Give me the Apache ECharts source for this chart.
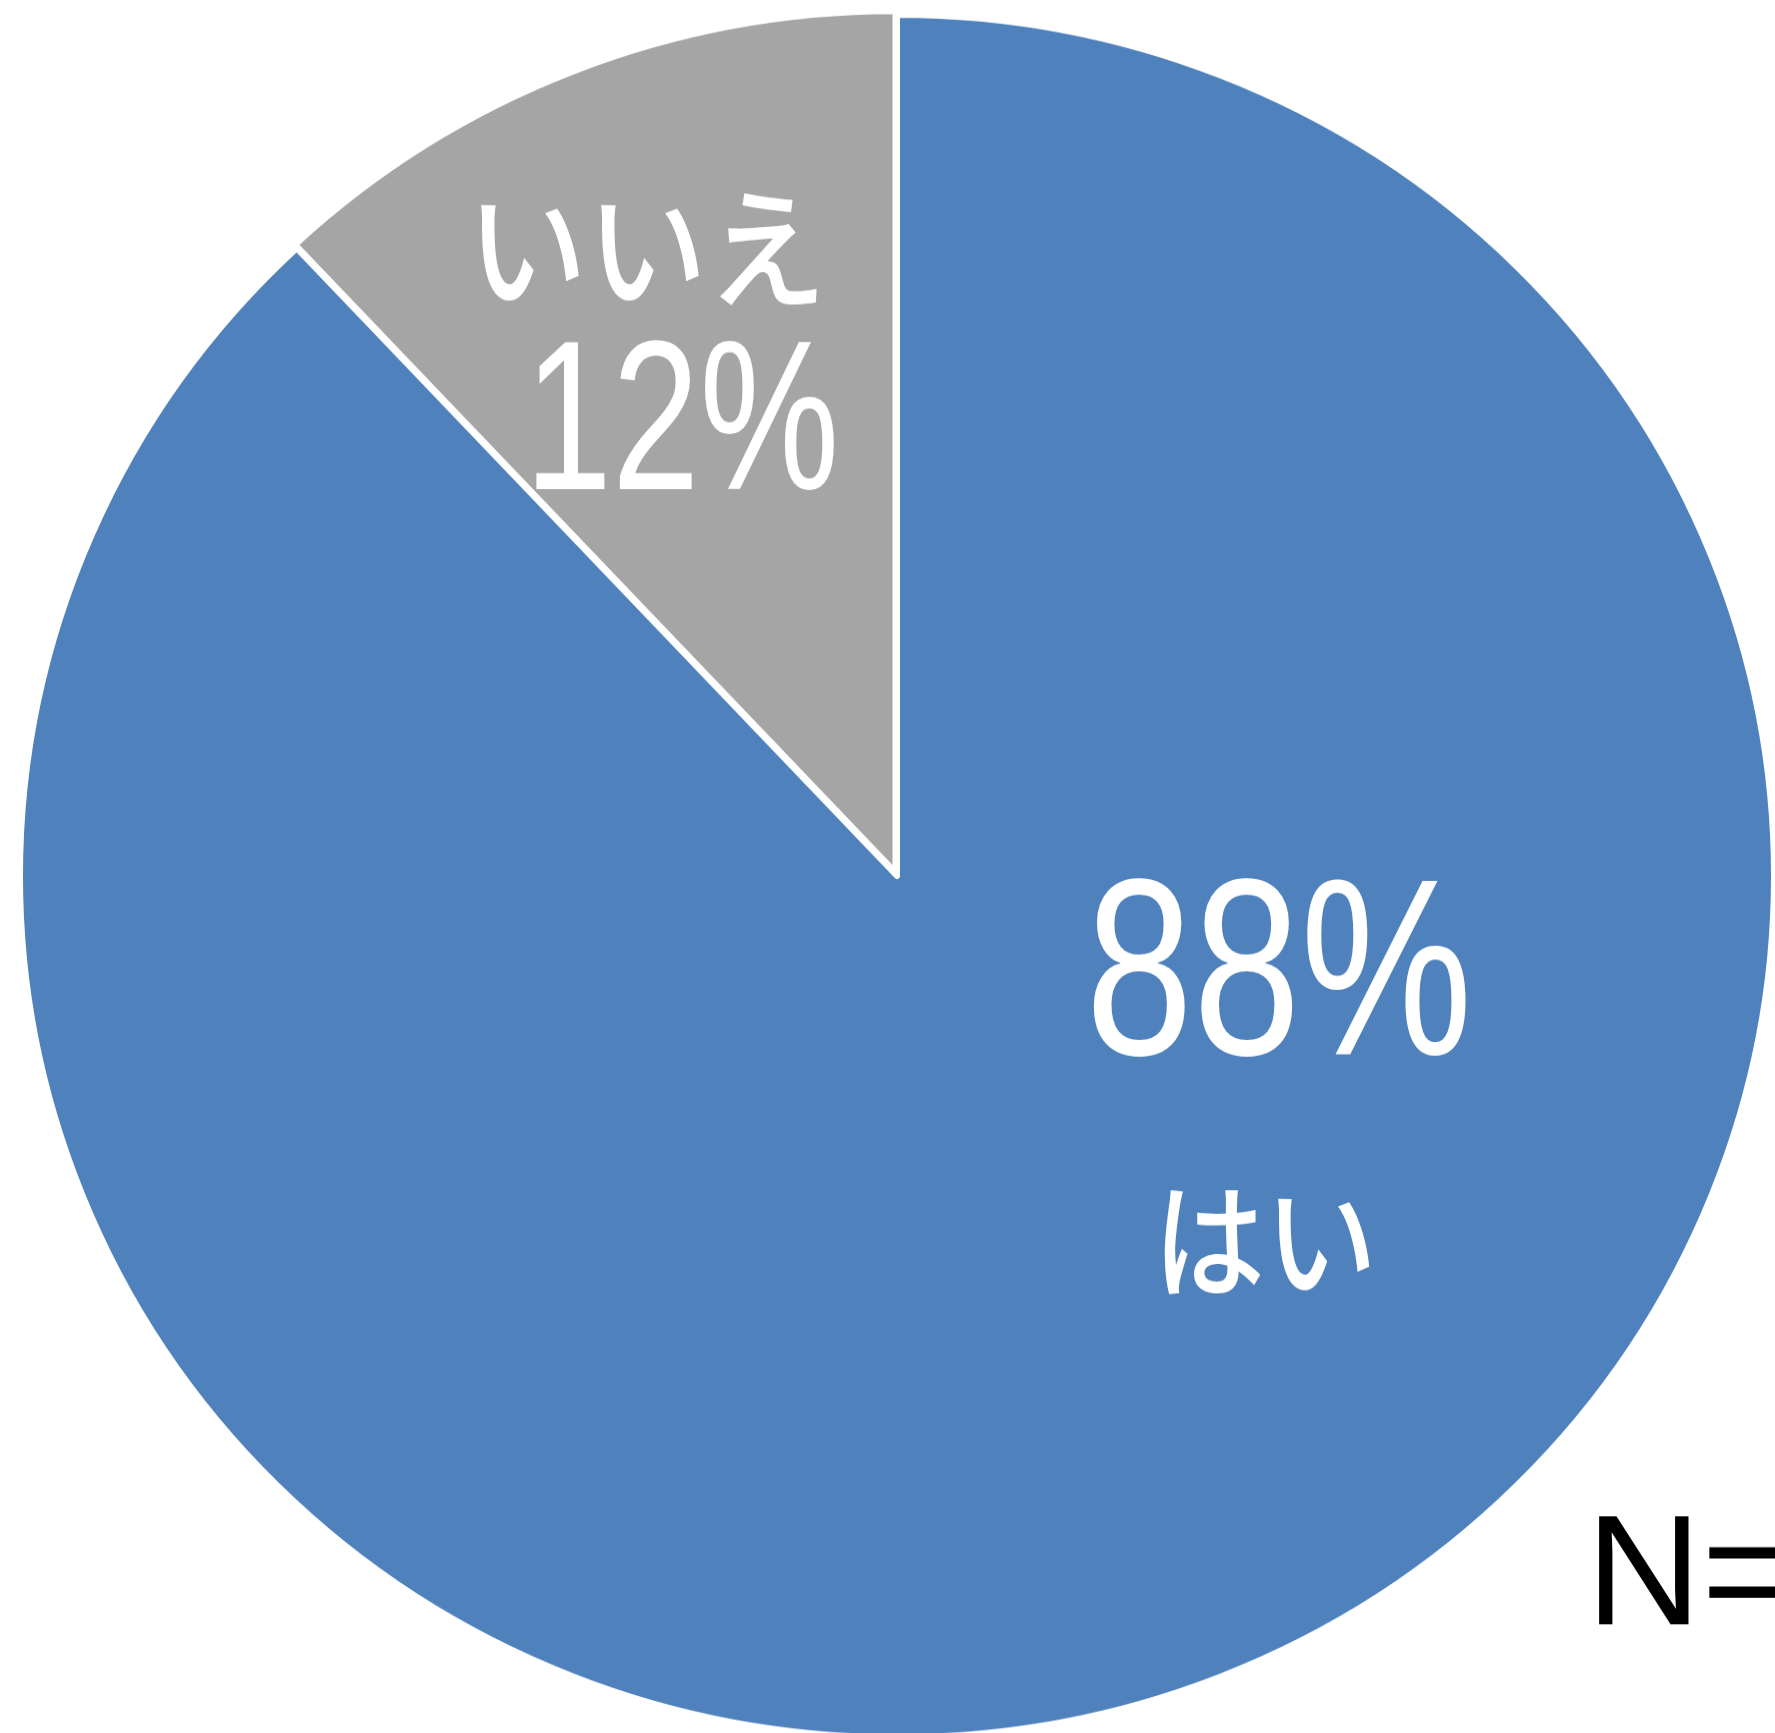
<!DOCTYPE html>
<html>
<head>
<meta charset="utf-8">
<script src="https://cdn.jsdelivr.net/npm/echarts@6/dist/echarts.min.js"></script>
<style>
html,body{margin:0;padding:0;background:#fff;overflow:hidden;width:1775px;height:1733px;}
#chart{position:absolute;left:0;top:-40px;width:1775px;height:1820px;transform:scaleY(0.982);transform-origin:0 916px;}
</style>
</head>
<body>
<div id="chart"></div>
<script>
const categories = ['はい', 'いいえ'];
const values = [88, 12];
const colors = ['#4F81BD', '#A5A5A5'];
const sampleLabel = 'N=';

const chart = echarts.init(document.getElementById('chart'), null, {renderer: 'canvas'});

const numFont = '"Liberation Sans", Arial, sans-serif';
const jpFont = '"Noto Sans CJK JP", sans-serif';

function txt(text, x, y, size, family, sx, sy, weight, align) {
  return {
    type: 'text',
    x: x, y: y,
    scaleX: sx, scaleY: sy,
    silent: true,
    z: 100,
    style: {
      text: text,
      fontFamily: family,
      fontSize: size,
      fontWeight: weight || 'normal',
      fill: '#ffffff',
      align: align || 'center',
      textAlign: align || 'center',
      verticalAlign: 'middle',
      textVerticalAlign: 'middle'
    }
  };
}

const labelTexts = [
  txt(values[0] + '%', 1279, 1027, 256, numFont, 0.755, 1, 'normal'),
  txt(categories[0], 1265, 1287, 112, jpFont, 1, 1.15, 500),
  txt(categories[1], 647, 277, 120, jpFont, 1, 1.12, 500),
  txt(values[1] + '%', 682, 462, 217, numFont, 0.725, 1, 'normal')
];

const nText = txt(sampleLabel, 1586, 1634, 160, '"Liberation Sans", Arial, sans-serif', 1, 1, 'normal', 'left');
nText.style.fill = '#000000';

chart.setOption({
  animation: false,
  backgroundColor: '#ffffff',
  graphic: labelTexts.concat([nText]),
  series: [{
    type: 'pie',
    center: [897, 916],
    radius: [0, 877],
    startAngle: 90,
    clockwise: true,
    selectedMode: 'single',
    selectedOffset: 4,
    silent: true,
    itemStyle: {borderColor: '#ffffff', borderWidth: 6},
    label: {show: false},
    labelLine: {show: false},
    data: categories.map((c, i) => ({
      name: c,
      value: values[i],
      selected: i === 1,
      itemStyle: {color: colors[i]}
    }))
  }]
});
</script>
</body>
</html>
